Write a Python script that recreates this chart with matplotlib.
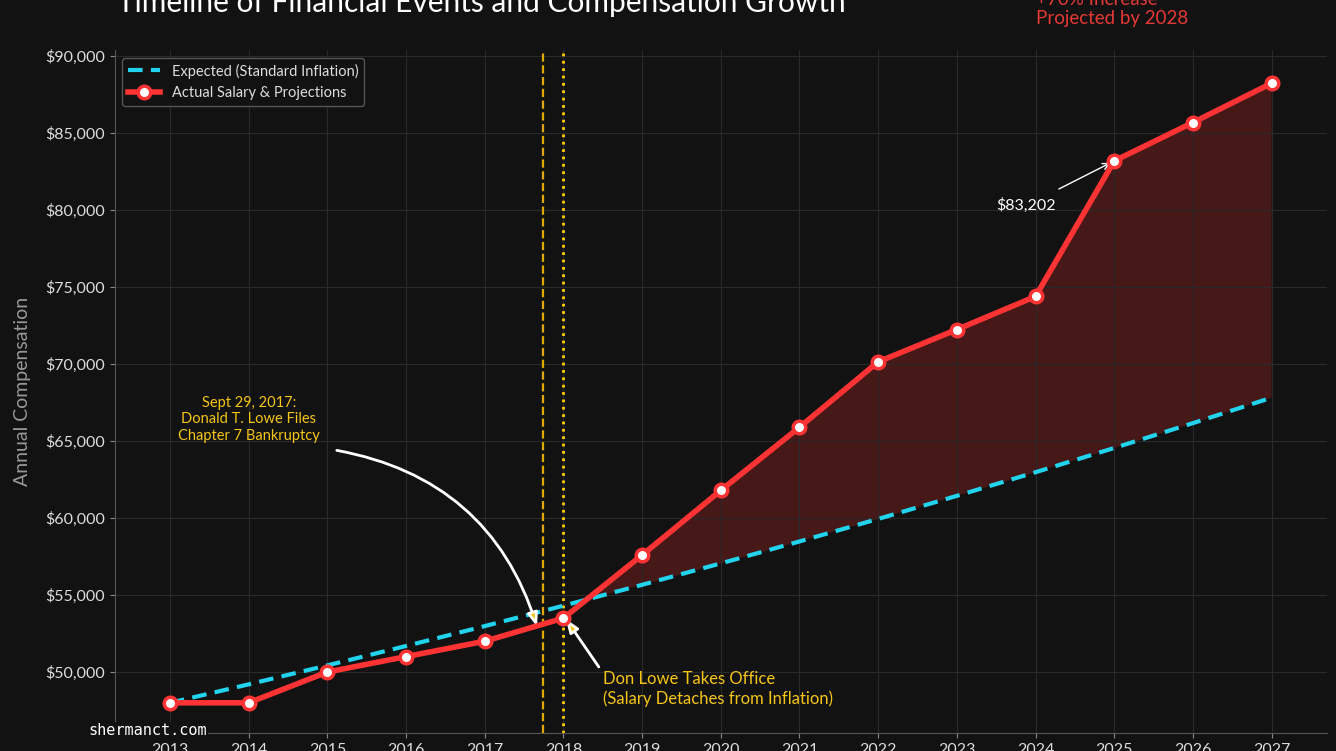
import matplotlib.pyplot as plt

# data
years = list(range(2013, 2028))
actual_salary = [48000, 48000, 50000, 51000, 52000, 53500, 57600, 61800,
                 65900, 70150, 72250, 74400, 83202, 85700, 88250]
expected_salary = [48000, 49200, 50430, 51691, 52983, 54308, 55665, 57057,
                   58483, 59946, 61444, 62980, 64555, 66169, 67823]
bankruptcy_x = 2017.745
office_x = 2018.0

BG = "#121212"
RED = "#ff3333"
CYAN = "#22d3ee"
GOLD = "#f5c518"

plt.rcParams["font.family"] = ["Lato", "DejaVu Sans"]

fig = plt.figure(figsize=(13.36, 7.51), dpi=100, facecolor=BG)
ax = fig.add_axes([0.086, 0.024, 0.907, 0.909], facecolor=BG)

ax.fill_between(years, actual_salary, expected_salary,
                where=[a >= e for a, e in zip(actual_salary, expected_salary)],
                interpolate=True, color="#7a1f1f", alpha=0.5, lw=0, zorder=1)
ax.plot(years, expected_salary, ls="--", color=CYAN, lw=3,
        dashes=(3.5, 2), label="Expected (Standard Inflation)", zorder=3)
ax.plot(years, actual_salary, color=RED, lw=4, marker="o", markersize=9,
        markerfacecolor="white", markeredgecolor=RED, markeredgewidth=2.5,
        label="Actual Salary & Projections", zorder=4)

ax.axvline(bankruptcy_x, color="#e0a800", ls="--", lw=1.6, zorder=2)
ax.axvline(office_x, color="#ffd000", ls=":", lw=2, zorder=2)

ax.set_xlim(2012.3, 2027.7)
ax.set_ylim(46040, 90390)
ax.set_xticks(years)
ax.yaxis.set_major_formatter(plt.FuncFormatter(lambda v, p: f"${v:,.0f}"))
ax.grid(True, color="#2a2a2a", lw=0.8, zorder=0)
for side in ["top", "right"]:
    ax.spines[side].set_visible(False)
for side in ["left", "bottom"]:
    ax.spines[side].set_color("#555555")
ax.tick_params(colors="#888888", labelcolor="#dddddd", labelsize=11.5)
ax.set_ylabel("Annual Compensation", color="#999999", fontsize=14, labelpad=10)

leg = ax.legend(loc="upper left", facecolor=BG, edgecolor="#555555",
                fontsize=10.5, framealpha=1, handlelength=2.2)
for t in leg.get_texts():
    t.set_color("#dddddd")

# annotations: text and arrows placed separately
ax.text(2014.0, 64900, "Sept 29, 2017:\nDonald T. Lowe Files\nChapter 7 Bankruptcy",
        color=GOLD, fontsize=10.5, ha="center", va="bottom")
ax.annotate("", xy=(bankruptcy_x - 0.08, 52950), xytext=(2015.12, 64400),
            arrowprops=dict(arrowstyle="-|>,head_length=0.8,head_width=0.3",
                            connectionstyle="arc3,rad=-0.3",
                            facecolor=GOLD, edgecolor="white", lw=2,
                            shrinkA=0, shrinkB=0))
ax.text(2018.5, 50050, "Don Lowe Takes Office\n(Salary Detaches from Inflation)",
        color=GOLD, fontsize=12, ha="left", va="top")
ax.annotate("", xy=(office_x + 0.03, 53450), xytext=(2018.45, 50330),
            arrowprops=dict(arrowstyle="-|>,head_length=0.8,head_width=0.3",
                            facecolor=GOLD, edgecolor="white", lw=2,
                            shrinkA=0, shrinkB=0))
ax.annotate("$83,202", xy=(2025, 83202), xytext=(2023.88, 80300),
            color="white", fontsize=11.5, ha="center", va="center",
            arrowprops=dict(arrowstyle="->", color="white", lw=1,
                            shrinkA=10, shrinkB=3))

fig.text(0.0875, 0.984, "Timeline of Financial Events and Compensation Growth",
         color="white", fontsize=21.5, ha="left", va="baseline")
fig.text(0.7755, 0.968, "+70% Increase\nProjected by 2028", color="#e53935",
         fontsize=13.5, ha="left", va="baseline", linespacing=1.15)

fig.text(0.066, 0.027, "shermanct.com", family="DejaVu Sans Mono",
         color="white", fontsize=11, ha="left", va="center",
         bbox=dict(facecolor=BG, edgecolor="none", pad=1))

fig.savefig("out.png", dpi=100, facecolor=BG)
